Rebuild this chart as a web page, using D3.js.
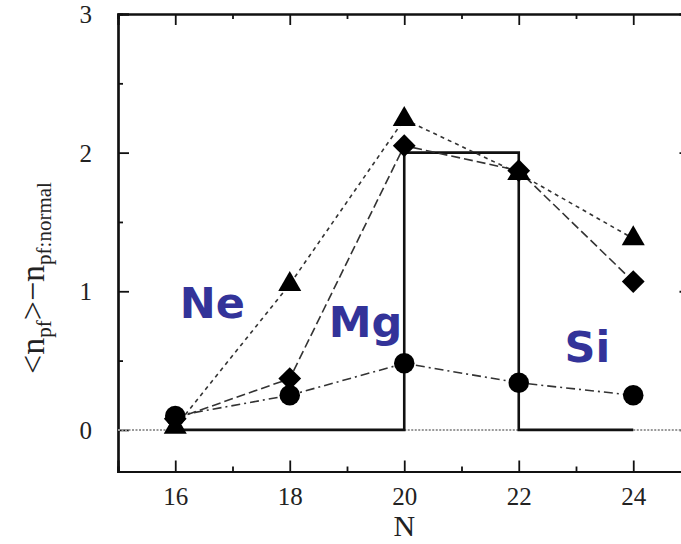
<!DOCTYPE html>
<html><head><meta charset="utf-8">
<script src="https://cdn.jsdelivr.net/npm/d3@7"></script>
<style>body{margin:0;background:#fff}svg{display:block}</style>
</head><body>
<script>
const neutrons = [16, 18, 20, 22, 24];
const triangleVals = [0.02, 1.05, 2.24, 1.85, 1.38];
const diamondVals  = [0.08, 0.37, 2.05, 1.87, 1.07];
const circleVals   = [0.10, 0.25, 0.48, 0.34, 0.25];
const stepN   = [16, 20, 20, 22, 22, 24];
const stepVal = [0, 0, 2, 2, 0, 0];
const dottedSegments = [[15, 16], [20, 22], [24, 25]];
const xTicks = [16, 18, 20, 22, 24];
const xMinor = [15, 17, 19, 21, 23, 25];
const yTicks = [0, 1, 2, 3];
const yMinor = [0.5, 1.5, 2.5];
const labels = [{t:"Ne", n:16.08, v:0.81}, {t:"Mg", n:18.68, v:0.67}, {t:"Si", n:22.8, v:0.49}];

const W = 681, H = 544;
const svg = d3.select("body").append("svg").attr("width", W).attr("height", H);
const x = d3.scaleLinear().domain([15, 25]).range([118, 690.5]);
const y = d3.scaleLinear().domain([-0.3, 3]).range([471.5, 14]);
const ink = "#111";
const serif = "'Liberation Serif','Times New Roman',serif";

// frame axes
const gB = svg.append("g").attr("transform", `translate(0,${y(-0.3)})`);
gB.call(d3.axisBottom(x).tickValues(xTicks).tickSize(-11).tickPadding(16).tickFormat(d3.format("d")));
const gBm = svg.append("g").attr("transform", `translate(0,${y(-0.3)})`);
gBm.call(d3.axisBottom(x).tickValues(xMinor).tickSize(-5).tickFormat(""));
const gT = svg.append("g").attr("transform", `translate(0,${y(3)})`);
gT.call(d3.axisTop(x).tickValues(xTicks).tickSize(-11).tickFormat(""));
const gTm = svg.append("g").attr("transform", `translate(0,${y(3)})`);
gTm.call(d3.axisTop(x).tickValues(xMinor).tickSize(-5).tickFormat(""));
const gL = svg.append("g").attr("transform", `translate(${x(15)},0)`);
gL.call(d3.axisLeft(y).tickValues(yTicks).tickSize(-11).tickPadding(26).tickFormat(d3.format("d")));
const gLm = svg.append("g").attr("transform", `translate(${x(15)},0)`);
gLm.call(d3.axisLeft(y).tickValues(yMinor).tickSize(-5).tickFormat(""));
const gR = svg.append("g").attr("transform", `translate(${x(25)},0)`);
gR.call(d3.axisRight(y).tickValues(yTicks).tickSize(-11).tickFormat(""));
const gRm = svg.append("g").attr("transform", `translate(${x(25)},0)`);
gRm.call(d3.axisRight(y).tickValues(yMinor).tickSize(-5).tickFormat(""));
svg.selectAll(".domain").attr("stroke", ink).attr("stroke-width", 2.2);
svg.selectAll(".tick line").attr("stroke", ink).attr("stroke-width", 1.8);
svg.selectAll(".tick text").attr("font-family", serif).attr("font-size", 25).attr("fill", "#222");
gL.selectAll(".tick text").attr("dy", "0.34em");

// dotted zero segments
dottedSegments.forEach(s => {
  svg.append("line").attr("x1", x(s[0])).attr("x2", x(s[1])).attr("y1", y(0)).attr("y2", y(0))
    .attr("stroke", "#999").attr("stroke-width", 2).attr("stroke-dasharray", "2,1.5");
});

// step line
svg.append("path").datum(stepN.map((n, i) => [n, stepVal[i]]))
  .attr("d", d3.line().x(d => x(d[0])).y(d => y(d[1])))
  .attr("fill", "none").attr("stroke", ink).attr("stroke-width", 2.6);

const line = d3.line().x((d) => x(d[0])).y(d => y(d[1]));
function series(vals, dash) {
  svg.append("path").datum(neutrons.map((n, i) => [n, vals[i]]))
    .attr("d", line).attr("fill", "none").attr("stroke", "#333").attr("stroke-width", 1.6)
    .attr("stroke-dasharray", dash);
}
series(triangleVals, "4,4");
series(diamondVals, "9,4");
series(circleVals, "9,4,2,4");

// markers
svg.append("g").selectAll("path").data(neutrons.map((n, i) => [n, circleVals[i]])).join("path")
  .attr("d", d3.symbol(d3.symbolCircle, 330)).attr("transform", d => `translate(${x(d[0])},${y(d[1])})`).attr("fill", "#000");
svg.append("g").selectAll("path").data(neutrons.map((n, i) => [n, diamondVals[i]])).join("path")
  .attr("d", d3.symbol(d3.symbolSquare, 260)).attr("transform", d => `translate(${x(d[0])},${y(d[1])}) rotate(45)`).attr("fill", "#000");
svg.append("g").selectAll("path").data(neutrons.map((n, i) => [n, triangleVals[i]])).join("path")
  .attr("d", d3.symbol(d3.symbolTriangle, 230)).attr("transform", d => `translate(${x(d[0])},${y(d[1])})`).attr("fill", "#000");

// element labels
svg.append("g").selectAll("text").data(labels).join("text")
  .attr("x", d => x(d.n)).attr("y", d => y(d.v))
  .attr("font-family", "'DejaVu Sans',Verdana,sans-serif").attr("font-weight", "bold")
  .attr("font-size", 43).attr("fill", "#333399").text(d => d.t);

// axis titles
svg.append("text").attr("x", x(20)).attr("y", 536).attr("text-anchor", "middle")
  .attr("font-family", serif).attr("font-size", 30).attr("fill", "#222").text("N");
const yl = svg.append("text").attr("transform", `translate(44,278) rotate(-90)`).attr("text-anchor", "middle")
  .attr("font-family", serif).attr("font-size", 34).attr("fill", "#222");
yl.append("tspan").text("<n");
yl.append("tspan").attr("font-size", 21).attr("dy", 7).text("pf");
yl.append("tspan").attr("dy", -7).text(">\u2212n");
yl.append("tspan").attr("font-size", 21).attr("dy", 7).text("pf:normal");
</script>
</body></html>
